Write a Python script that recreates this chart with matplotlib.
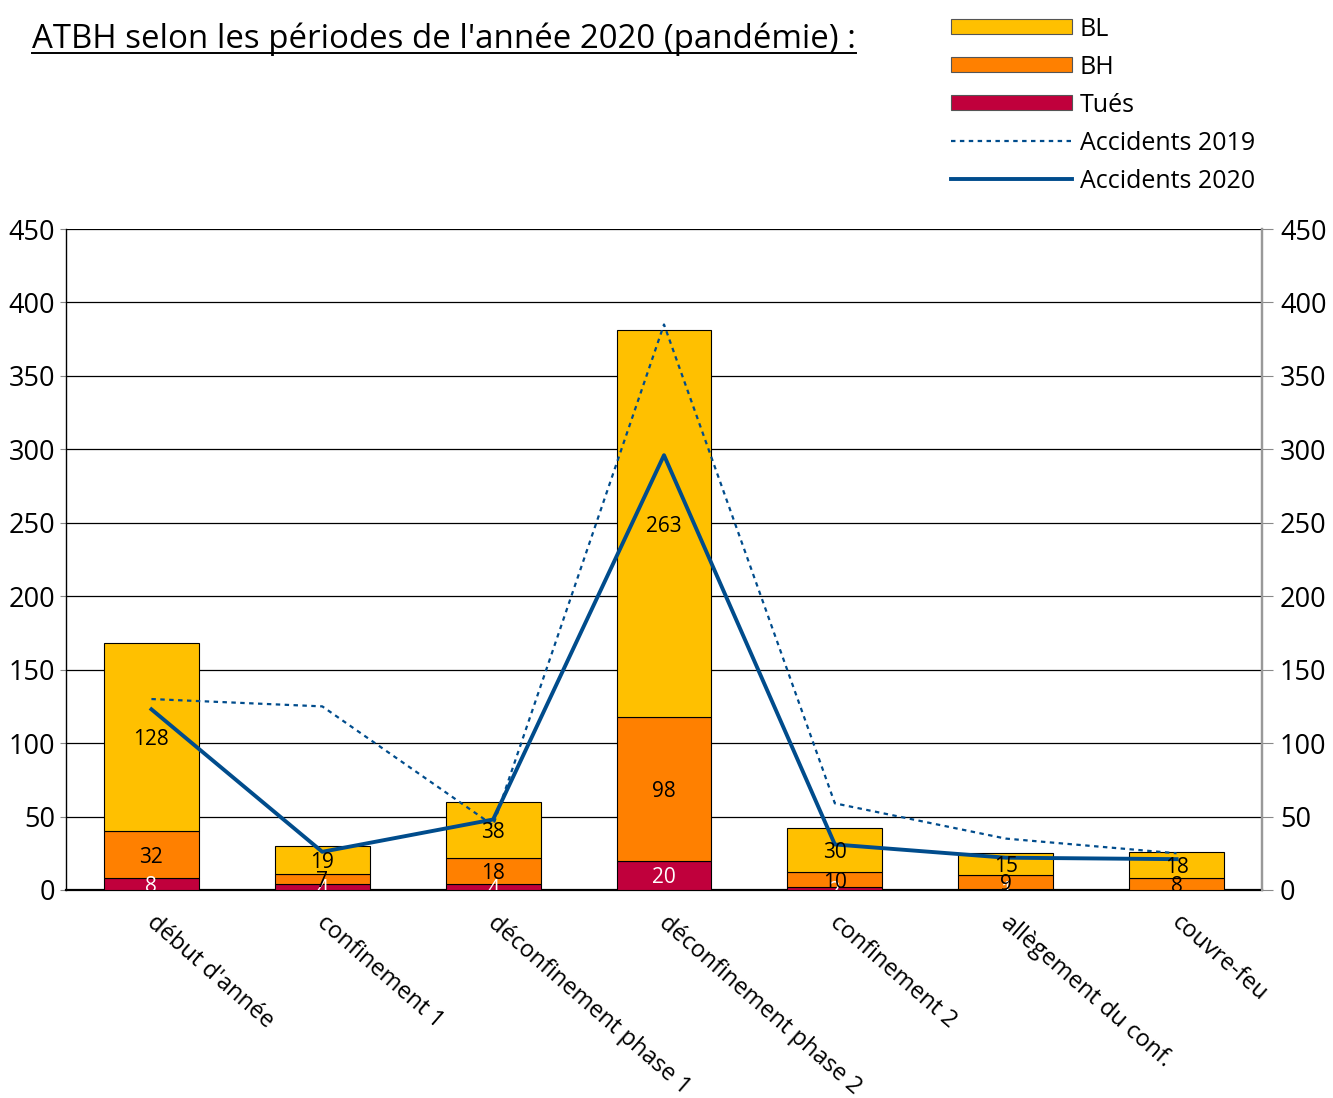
import matplotlib
matplotlib.use("Agg")
import matplotlib.pyplot as plt
from matplotlib.patches import Patch
from matplotlib.lines import Line2D
import numpy as np

plt.rcParams['font.family'] = ['Open Sans', 'DejaVu Sans']

periods = ["début d'année", "confinement 1", "déconfinement phase 1",
           "déconfinement phase 2", "confinement 2", "allègement du conf.",
           "couvre-feu"]
tues = [8, 4, 4, 20, 2, 1, 0]
bh = [32, 7, 18, 98, 10, 9, 8]
bl = [128, 19, 38, 263, 30, 15, 18]
accidents_2019 = [130, 125, 44, 385, 59, 35, 25]
accidents_2020 = [123, 26, 48, 296, 31, 22, 21]

c_bl = "#FFC000"
c_bh = "#FF8000"
c_tues = "#C0003C"
c_line = "#004C8C"

W, H = 1333, 1098
fig = plt.figure(figsize=(W / 100, H / 100), dpi=100)
ax = fig.add_axes([66 / W, 1 - 890 / H, (1262 - 66) / W, (890 - 229) / H])

x = np.arange(len(periods))
w = 0.555
tues_a = np.array(tues)
bh_a = np.array(bh)
bl_a = np.array(bl)

ax.bar(x, tues_a, w, color=c_tues, edgecolor="black", linewidth=0.8, zorder=3)
ax.bar(x, bh_a, w, bottom=tues_a, color=c_bh, edgecolor="black", linewidth=0.8, zorder=3)
ax.bar(x, bl_a, w, bottom=tues_a + bh_a, color=c_bl, edgecolor="black", linewidth=0.8, zorder=3)

ax.plot(x, accidents_2019, color=c_line, linestyle=(0, (2, 2)), linewidth=1.6, zorder=4)
ax.plot(x, accidents_2020, color=c_line, linewidth=2.8, zorder=5)

# segment value labels (clipped to the plotting area)
lab_fs = 15
for i in x:
    if tues[i] > 0:
        ax.text(i, tues[i] / 2, str(tues[i]), ha="center", va="center_baseline",
                fontsize=lab_fs, color="white", zorder=6, clip_on=True)
    ax.text(i, tues[i] + bh[i] / 2, str(bh[i]), ha="center", va="center_baseline",
            fontsize=lab_fs, color="black", zorder=6, clip_on=True)
    ax.text(i, tues[i] + bh[i] + bl[i] / 2, str(bl[i]), ha="center", va="center_baseline",
            fontsize=lab_fs, color="black", zorder=6, clip_on=True)

ax.set_xlim(-0.5, len(periods) - 0.5)
ax.set_ylim(0, 450)
ticks = np.arange(0, 451, 50)
ax.set_yticks(ticks)
ax.set_yticklabels([str(t) for t in ticks], fontsize=19.5)
ax.tick_params(axis="y", length=4, width=0.8, color="#888888", pad=4)
ax.grid(axis="y", color="black", linewidth=0.9, zorder=0)
ax.set_axisbelow(True)

ax.set_xticks(x)
ax.set_xticklabels([])
ax.tick_params(axis="x", length=0)
for i, name in enumerate(periods):
    ax.text(i + 0.035, -14, name, rotation=-41, rotation_mode="anchor",
            ha="left", va="top", fontsize=17, clip_on=False)

ax.spines["top"].set_visible(False)
ax.spines["left"].set_color("black")
ax.spines["left"].set_linewidth(1.0)
ax.spines["bottom"].set_color("black")
ax.spines["bottom"].set_linewidth(1.6)
ax.spines["right"].set_color("#999999")
ax.spines["right"].set_linewidth(1.6)

ax2 = ax.twinx()
ax2.set_ylim(0, 450)
ax2.set_yticks(ticks)
ax2.set_yticklabels([str(t) for t in ticks], fontsize=19.5)
ax2.tick_params(axis="y", length=8, width=0.8, color="#888888", pad=5)
for s in ["top", "left", "bottom"]:
    ax2.spines[s].set_visible(False)
ax2.spines["right"].set_color("#999999")
ax2.spines["right"].set_linewidth(1.6)

title = fig.text(32 / W, 1 - 39 / H,
                 "ATBH selon les périodes de l'année 2020 (pandémie) :",
                 fontsize=23.8, ha="left", va="center")
# underline for the title
fig.canvas.draw()
bb = title.get_window_extent()
fig.add_artist(Line2D([bb.x0 / W, bb.x1 / W],
                      [(bb.y0 + 3) / H, (bb.y0 + 3) / H],
                      color="black", linewidth=1.4, transform=fig.transFigure))

handles = [
    Patch(facecolor=c_bl, edgecolor="#555555", linewidth=0.8, label="BL"),
    Patch(facecolor=c_bh, edgecolor="#555555", linewidth=0.8, label="BH"),
    Patch(facecolor=c_tues, edgecolor="#555555", linewidth=0.8, label="Tués"),
    Line2D([], [], color=c_line, linestyle=(0, (2, 2)), linewidth=1.6, label="Accidents 2019"),
    Line2D([], [], color=c_line, linewidth=2.8, label="Accidents 2020"),
]
fig.legend(handles=handles, loc="upper left",
           bbox_to_anchor=(936 / W, 1 - 2 / H), frameon=False,
           fontsize=18, handlelength=4.84, handleheight=0.56,
           labelspacing=0.52, handletextpad=0.32, borderpad=0.08)

fig.savefig("out.png", dpi=100, facecolor="white")
